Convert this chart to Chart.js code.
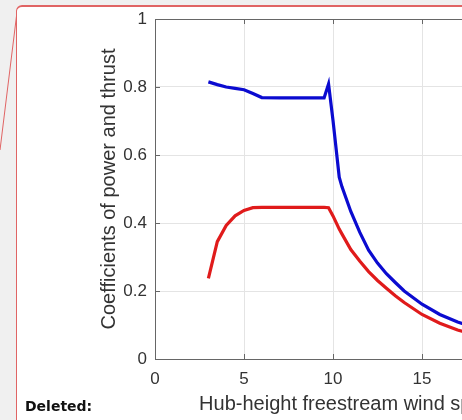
<!DOCTYPE html>
<html>
<head>
<meta charset="utf-8">
<script src="https://cdn.jsdelivr.net/npm/chart.js@4.4.1/dist/chart.umd.min.js"></script>
<style>
  html, body { margin: 0; padding: 0; width: 462px; height: 420px; overflow: hidden; background: #f0f0f0; }
  #page { position: absolute; left: 16px; top: 5px; width: 560px; height: 480px; background: #fff; border-radius: 6px; }
  #frame { position: absolute; left: 16px; top: 5px; width: 560px; height: 480px; z-index: 2;
           border: 1px solid #e06464; border-top-width: 2px; border-radius: 6px; pointer-events: none; }
  #link { position: absolute; left: 0; top: 0; z-index: 2; }
  #wrap { position: absolute; left: 0; top: 0; width: 640px; height: 420px; z-index: 1; }
  #deleted { position: absolute; left: 25px; top: 398px; font: bold 14px "DejaVu Sans", sans-serif; color: #111; z-index: 2; }
</style>
</head>
<body>
<div id="page"></div>
<div id="wrap"><canvas id="coefChart" width="640" height="420"></canvas></div>
<div id="frame"></div>
<svg id="link" width="40" height="160"><line x1="16.5" y1="16" x2="0" y2="150" stroke="#e06464" stroke-width="1"/></svg>
<div id="deleted">Deleted:</div>
<script>
// wind speeds (m/s) and turbine coefficients
const windSpeed = [3, 3.5, 4, 4.5, 5, 5.5, 6, 7, 8, 9, 9.5, 9.75, 10, 10.35, 10.5, 11, 11.5, 12, 12.5, 13, 13.5, 14, 15, 16, 17, 18, 19, 20, 21, 22, 23, 24, 25];
const thrustCoef = [0.815, 0.807, 0.800, 0.796, 0.792, 0.781, 0.769, 0.768, 0.768, 0.768, 0.768, 0.809, 0.702, 0.535, 0.507, 0.434, 0.373, 0.320, 0.282, 0.251, 0.225, 0.200, 0.161, 0.131, 0.109, 0.092, 0.079, 0.068, 0.059, 0.052, 0.046, 0.041, 0.037];
const powerCoef = [0.237, 0.345, 0.393, 0.421, 0.437, 0.445, 0.446, 0.446, 0.446, 0.446, 0.446, 0.445, 0.421, 0.382, 0.368, 0.322, 0.288, 0.257, 0.231, 0.208, 0.186, 0.166, 0.131, 0.105, 0.085, 0.071, 0.060, 0.052, 0.045, 0.039, 0.034, 0.030, 0.027];
const xTicks = [0, 5, 10, 15, 20, 25];
const yTicks = [0, 0.2, 0.4, 0.6, 0.8, 1];

const axisColor = '#666';
const textColor = '#333';

function toPoints(ys) {
    return windSpeed.map((x, i) => ({ x: x, y: ys[i] }));
}

// top border and inward tick marks, matlab style
const boxTicks = {
    id: 'boxTicks',
    afterDraw(chart) {
        const { ctx, chartArea: a, scales } = chart;
        ctx.save();
        ctx.strokeStyle = axisColor;
        ctx.lineWidth = 1;
        ctx.beginPath();
        ctx.moveTo(a.left, a.top + 0.5);
        ctx.lineTo(a.right, a.top + 0.5);
        xTicks.forEach(v => {
            const px = Math.round(scales.x.getPixelForValue(v)) + 0.5;
            ctx.moveTo(px, a.bottom); ctx.lineTo(px, a.bottom - 5);
            ctx.moveTo(px, a.top); ctx.lineTo(px, a.top + 5);
        });
        yTicks.forEach(v => {
            const py = Math.round(scales.y.getPixelForValue(v)) + 0.5;
            ctx.moveTo(a.left, py); ctx.lineTo(a.left + 5, py);
        });
        ctx.stroke();
        ctx.restore();
    }
};

const ctx = document.getElementById('coefChart').getContext('2d');
new Chart(ctx, {
    type: 'line',
    data: {
        datasets: [
            {
                label: 'Thrust',
                data: toPoints(thrustCoef),
                borderColor: '#0b0bd0',
                borderWidth: 3.2,
                pointRadius: 0,
                tension: 0
            },
            {
                label: 'Power',
                data: toPoints(powerCoef),
                borderColor: '#e01b1b',
                borderWidth: 3.2,
                pointRadius: 0,
                tension: 0
            }
        ]
    },
    options: {
        responsive: false,
        animation: false,
        devicePixelRatio: 1,
        layout: { padding: { top: 19, right: 40, left: 0, bottom: 0 } },
        plugins: { legend: { display: false }, tooltip: { enabled: false } },
        scales: {
            x: {
                type: 'linear',
                min: 0,
                max: 25,
                afterBuildTicks: s => { s.ticks = xTicks.map(v => ({ value: v })); },
                afterFit: s => { s.height = 61; },
                grid: { color: '#e4e4e4', drawTicks: false },
                border: { color: axisColor },
                ticks: { padding: 10, color: textColor, font: { family: 'Liberation Sans', size: 17 } },
                title: {
                    display: true,
                    text: 'Hub-height freestream wind speed (m/s)',
                    color: textColor,
                    font: { family: 'Liberation Sans', size: 20 },
                    padding: { top: 0, bottom: 4 }
                }
            },
            y: {
                min: 0,
                max: 1,
                afterBuildTicks: s => { s.ticks = yTicks.map(v => ({ value: v })); },
                afterFit: s => { s.width = 155; },
                grid: { color: '#e4e4e4', drawTicks: false },
                border: { color: axisColor },
                ticks: {
                    padding: 8,
                    color: textColor,
                    font: { family: 'Liberation Sans', size: 17 },
                    callback: v => String(+v.toFixed(1))
                },
                title: {
                    display: true,
                    text: 'Coefficients of power and thrust',
                    color: textColor,
                    font: { family: 'Liberation Sans', size: 20 },
                    padding: { top: 97, bottom: 0 }
                }
            }
        }
    },
    plugins: [boxTicks]
});
</script>
</body>
</html>
